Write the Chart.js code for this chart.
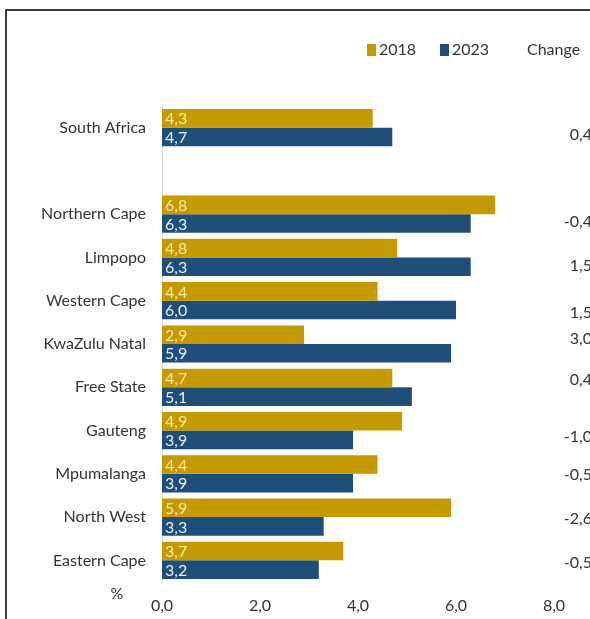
<!doctype html>
<html lang="en">
<head>
<meta charset="utf-8">
<title>Unemployment rate by province, 2018 and 2023</title>
<script src="https://cdn.jsdelivr.net/npm/chart.js"></script>
<style>
  html, body { margin: 0; background: #fff; overflow: hidden; }
  #frame { position: absolute; left: 5px; top: 9px; width: 700px; height: 700px; border: 2px solid #3a3a3a; }
  canvas { position: absolute; left: 0; top: 0; }
</style>
</head>
<body>
<div id="frame"></div>
<canvas id="chart" width="590" height="619"></canvas>
<script>
// Regions (blank slot keeps South Africa apart from the provinces)
const regions = ['South Africa', '', 'Northern Cape', 'Limpopo', 'Western Cape', 'KwaZulu Natal',
  'Free State', 'Gauteng', 'Mpumalanga', 'North West', 'Eastern Cape'];
const values2018 = [4.3, null, 6.8, 4.8, 4.4, 2.9, 4.7, 4.9, 4.4, 5.9, 3.7];
const values2023 = [4.7, null, 6.3, 6.3, 6.0, 5.9, 5.1, 3.9, 3.9, 3.3, 3.2];
const changes = [0.4, null, -0.4, 1.5, 1.5, 3.0, 0.4, -1.0, -0.5, -2.6, -0.5];
const xTicks = [0, 2, 4, 6, 8];

const FONT = 'Lato, "Open Sans", sans-serif';
const GOLD = '#c49a00';
const NAVY = '#1f4e79';
const labelColors = ['#fbe6a2', '#e8eef5'];
// vertical nudge of the change figures, per row
const changeShift = [7, 0, 8, 8, 12, -5, -7, 6, 1, 2, 2];

const fmt = v => v.toFixed(1).replace('.', ',');

const annotate = {
  id: 'annotate',
  afterDatasetsDraw(chart) {
    const ctx = chart.ctx;
    ctx.save();
    ctx.font = `16px ${FONT}`;
    ctx.textBaseline = 'middle';

    // value labels inside the bars
    ctx.textAlign = 'left';
    chart.data.datasets.forEach((ds, i) => {
      chart.getDatasetMeta(i).data.forEach((bar, j) => {
        if (ds.data[j] == null) return;
        ctx.fillStyle = labelColors[i];
        ctx.fillText(fmt(ds.data[j]), bar.base + 3, bar.y + 1);
      });
    });

    // change column on the right
    const y = chart.scales.y;
    ctx.fillStyle = '#333';
    ctx.textAlign = 'right';
    changes.forEach((c, j) => {
      if (c == null) return;
      ctx.fillText(fmt(c), 592, y.getPixelForValue(j) + changeShift[j]);
    });

    // legend and column header
    ctx.textAlign = 'left';
    const legendX = [367, 440];
    chart.data.datasets.forEach((ds, i) => {
      ctx.fillStyle = ds.backgroundColor;
      ctx.fillRect(legendX[i], 44, 9, 12);
      ctx.fillStyle = '#333';
      ctx.fillText(ds.label, legendX[i] + 12, 50);
    });
    ctx.fillText('Change', 527, 50);

    // unit label under the category axis
    ctx.textAlign = 'center';
    ctx.fillText('%', 117, 594);
    ctx.restore();
  }
};

new Chart(document.getElementById('chart'), {
  type: 'bar',
  data: {
    labels: regions,
    datasets: [
      { label: '2018', data: values2018, backgroundColor: GOLD },
      { label: '2023', data: values2023, backgroundColor: NAVY }
    ]
  },
  options: {
    indexAxis: 'y',
    responsive: false,
    animation: false,
    events: [],
    barPercentage: 1,
    categoryPercentage: 0.86,
    layout: { padding: { top: 106, right: 36, bottom: 6, left: 0 } },
    plugins: { legend: { display: false }, tooltip: { enabled: false } },
    scales: {
      x: {
        min: 0,
        max: 8,
        afterBuildTicks: s => { s.ticks = xTicks.map(v => ({ value: v })); },
        afterFit: s => { s.height = 31; },
        grid: { display: false, drawTicks: false },
        border: { display: false },
        ticks: { padding: 14, color: '#333', font: { family: FONT, size: 16 }, callback: v => fmt(v) }
      },
      y: {
        afterFit: s => { s.width = 162; },
        grid: { display: false, drawTicks: false },
        border: { display: true, color: '#d9d9d9' },
        ticks: { padding: 16, color: '#333', font: { family: FONT, size: 16 } }
      }
    }
  },
  plugins: [annotate]
});
</script>
</body>
</html>
